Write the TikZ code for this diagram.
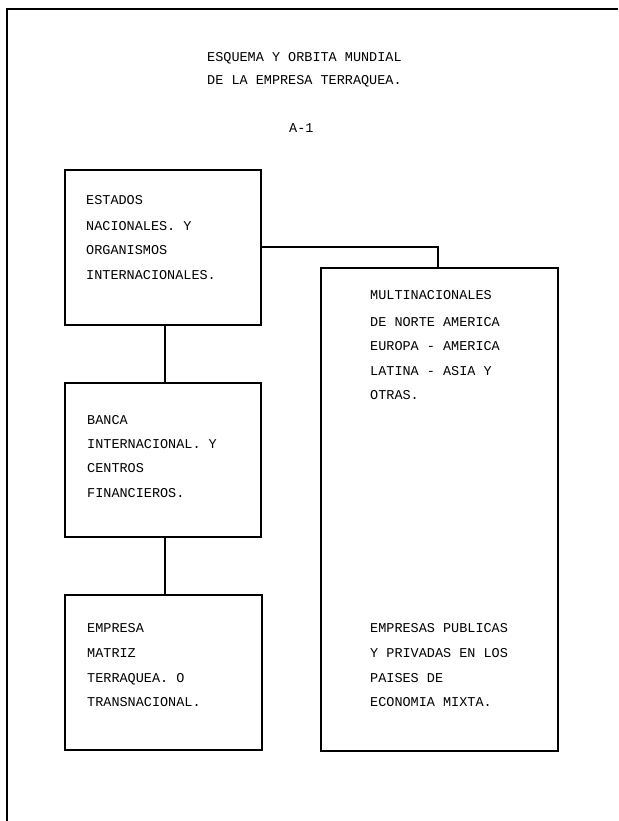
\documentclass[tikz,border=0pt]{standalone}
\usepackage{fontspec}
\setmonofont{Liberation Mono}
\begin{document}
\begin{tikzpicture}[x=1pt,y=-1pt,
  box/.style={draw, line width=1.3pt, inner sep=0pt},
  link/.style={line width=1.7pt},
  txt/.style={anchor=west, inner sep=0pt, text height=8.5pt, text depth=0pt,
              font=\ttfamily\fontsize{13.5}{16}\selectfont}]
\useasboundingbox (0,0) rectangle (618,821);
\fill[white] (0,0) rectangle (618,821);
% page frame
\draw[line width=1.3pt] (7,821) -- (7,9) -- (618,9);
% title
\node[txt] (title1) at (207,57) {ESQUEMA Y ORBITA MUNDIAL};
\node[txt] (title2) at (207,80) {DE LA EMPRESA TERRAQUEA.};
\node[txt] (code) at (289,128) {A-1};
% boxes
\node[box, minimum width=196pt, minimum height=155pt] (b1) at (163,247.5) {};
\node[box, minimum width=196pt, minimum height=154pt] (b2) at (163,460) {};
\node[box, minimum width=197pt, minimum height=155pt] (b3) at (163.5,672.5) {};
\node[box, minimum width=237pt, minimum height=483pt] (b4) at (439.5,509.5) {};
% connectors
\draw[link] ([xshift=2pt]b1.south) -- ([xshift=2pt]b2.north);
\draw[link] ([xshift=2pt]b2.south) -- ([xshift=1.5pt]b3.north);
\draw[link] ([yshift=0.5pt]b1.east) -| ([xshift=-1.5pt]b4.north);
% texts
\foreach \t/\y [count=\i] in {ESTADOS/200, NACIONALES. Y/226, ORGANISMOS/250, INTERNACIONALES./275}
  \node[txt] (ta\i) at (86,\y) {\t};
\foreach \t/\y [count=\i] in {BANCA/420, INTERNACIONAL. Y/444, CENTROS/468, FINANCIEROS./493}
  \node[txt] (tb\i) at (87,\y) {\t};
\foreach \t/\y [count=\i] in {EMPRESA/628, MATRIZ/653, TERRAQUEA. O/678, TRANSNACIONAL./702}
  \node[txt] (tc\i) at (87,\y) {\t};
\foreach \t/\y [count=\i] in {MULTINACIONALES/295, DE NORTE AMERICA/322, EUROPA - AMERICA/346, LATINA - ASIA Y/371, OTRAS./395}
  \node[txt] (td\i) at (370,\y) {\t};
\foreach \t/\y [count=\i] in {EMPRESAS PUBLICAS/628, Y PRIVADAS EN LOS/653, PAISES DE/678, ECONOMIA MIXTA./702}
  \node[txt] (te\i) at (370,\y) {\t};
\end{tikzpicture}
\end{document}
